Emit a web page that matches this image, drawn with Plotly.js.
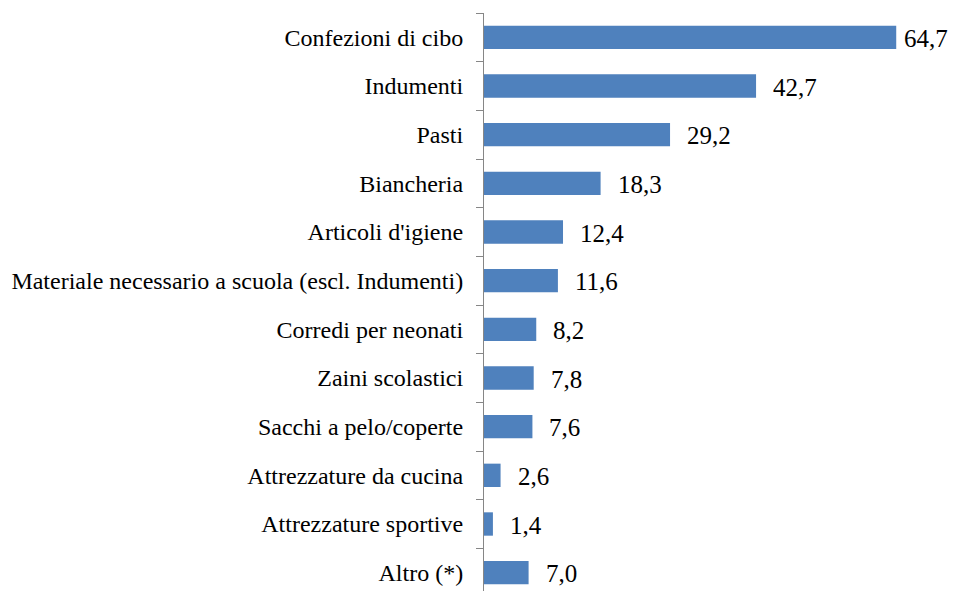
<!DOCTYPE html>
<html><head><meta charset="utf-8">
<script src="https://cdn.plot.ly/plotly-3.0.1.min.js"></script>
<style>html,body{margin:0;padding:0;overflow:hidden;background:#fff}#chart{width:953px;height:600px}</style>
</head><body><div id="chart"></div>
<script>
const categories = ["Confezioni di cibo","Indumenti","Pasti","Biancheria","Articoli d'igiene","Materiale necessario a scuola (escl. Indumenti)","Corredi per neonati","Zaini scolastici","Sacchi a pelo/coperte","Attrezzature da cucina","Attrezzature sportive","Altro (*)"];
const values = [64.7,42.7,29.2,18.3,12.4,11.6,8.2,7.8,7.6,2.6,1.4,7.0];
const labels = values.map(v => v.toFixed(1).replace('.', ','));
const FONT = 'Liberation Serif';
const XMAX = 70;

const trace = {type:'bar', orientation:'h', x: values, y: categories,
  marker:{color:'#4F81BD', line:{color:'#4F81BD', width:0}}, hoverinfo:'none'};
// labels sit ~14px right of the bar, but are pulled in when close to the chart edge
const annotations = values.map((v,i)=>({x:v, y:categories[i], xref:'x', yref:'y', text:labels[i],
  showarrow:false, xanchor:'left', xshift:(v > XMAX*0.9 ? 6 : 15), yshift:-1,
  font:{family:FONT, size:25, color:'#000'}}));
const layout = {width:953, height:600, margin:{l:484, r:23, t:13, b:3}, showlegend:false,
  bargap:0.52, paper_bgcolor:'#fff', plot_bgcolor:'#fff',
  font:{family:FONT, size:24, color:'#000'},
  xaxis:{range:[0,XMAX], visible:false, showgrid:false, zeroline:false},
  yaxis:{autorange:'reversed', type:'category', showline:true, linecolor:'#868686', linewidth:1,
    ticks:'outside', ticklen:7, tickcolor:'#868686', tickson:'boundaries', ticklabelstandoff:15,
    showgrid:false, zeroline:false, tickfont:{family:FONT, size:24, color:'#000'}},
  annotations: annotations};
Plotly.newPlot('chart',[trace],layout,{displayModeBar:false, staticPlot:true});
</script></body></html>
